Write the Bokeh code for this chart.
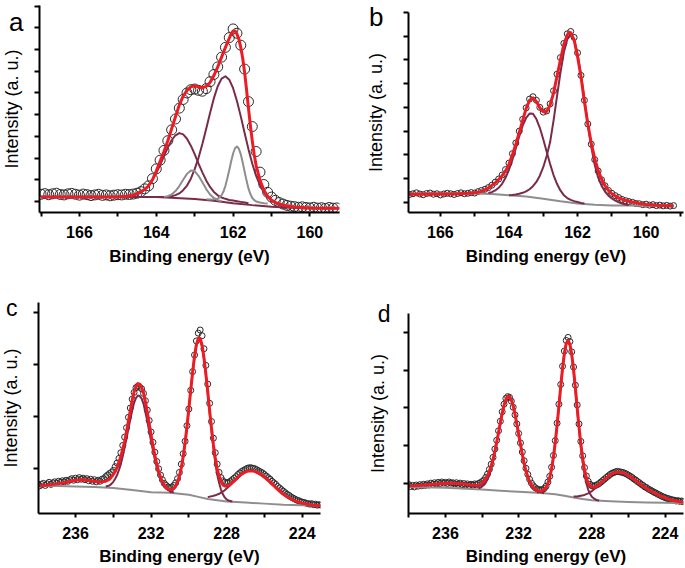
import numpy as np
from bokeh.plotting import figure
from bokeh.models import Range1d, FixedTicker
from bokeh.layouts import row, column
from bokeh.embed import file_html
from bokeh.resources import INLINE

# ---------------- data (intensity in arbitrary units = y-tick steps) ----------------
# scan grids: start energy (eV) and step (eV) of the measured points
SCAN_AB = (167.0, 0.1)
SCAN_CD = (238.0, 0.1)

# panel a: measured points, 167.0 -> 159.3 eV
a_counts = [
    0.33, 0.36, 0.31, 0.35, 0.38, 0.32, 0.30, 0.35, 0.37, 0.33,
    0.29, 0.34, 0.31, 0.27, 0.30, 0.33, 0.28, 0.30, 0.26, 0.29,
    0.31, 0.30, 0.33, 0.32, 0.34, 0.38, 0.45, 0.58, 0.72, 1.05,
    1.50, 1.90, 2.35, 2.80, 3.30, 3.80, 4.30, 4.70, 5.00, 5.15,
    5.18, 5.12, 5.08, 5.20, 5.52, 5.85, 6.20, 6.65, 7.10, 7.55,
    7.95, 7.75, 7.20, 6.10, 4.60, 3.45, 2.30, 1.35, 0.78, 0.42,
    0.20, 0.05, -0.05, -0.12, -0.18, -0.22, -0.24, -0.27, -0.25, -0.28,
    -0.30, -0.27, -0.31, -0.29, -0.32, -0.28, -0.31, -0.30,
]
a_fit_x = [167.0, 166.5, 166.0, 165.5, 165.0, 164.8, 164.6, 164.5, 164.4, 164.3, 164.2, 164.1,
           164.0, 163.9, 163.8, 163.7, 163.6, 163.5, 163.4, 163.3, 163.2, 163.1,
           163.0, 162.9, 162.8, 162.7, 162.6, 162.5, 162.4, 162.3, 162.2, 162.1,
           162.05, 162.0, 161.95, 161.9, 161.85, 161.8, 161.75, 161.7, 161.65, 161.6,
           161.55, 161.5, 161.45, 161.4, 161.3, 161.2, 161.1, 161.0, 160.9, 160.8,
           160.6, 160.4, 160.0, 159.6, 159.23]
a_fit_y = [0.20, 0.20, 0.20, 0.20, 0.21, 0.23, 0.30, 0.36, 0.45, 0.56, 0.72, 1.00,
           1.40, 1.85, 2.30, 2.80, 3.35, 3.90, 4.45, 4.85, 5.12, 5.28,
           5.33, 5.28, 5.24, 5.30, 5.48, 5.80, 6.20, 6.65, 7.10, 7.52,
           7.72, 7.85, 7.86, 7.72, 7.48, 7.10, 6.60, 5.95, 5.15, 4.30,
           3.50, 2.78, 2.15, 1.65, 0.98, 0.52, 0.24, 0.06, -0.05, -0.12,
           -0.21, -0.26, -0.30, -0.31, -0.31]
a_base_x = [167.0, 165.0, 164.5, 164.0, 163.5, 163.0, 162.5, 162.0, 161.5, 161.0, 160.5, 160.0, 159.23]
a_base_y = [0.22, 0.22, 0.21, 0.20, 0.16, 0.11, 0.03, -0.08, -0.17, -0.24, -0.29, -0.31, -0.31]
a_m1_start = 164.0   # maroon component at 162.2 eV, 0.1 eV steps
a_m1_y = [0.20, 0.21, 0.21, 0.22, 0.24, 0.29, 0.37, 0.52, 0.73, 1.05,
          1.49, 2.01, 2.65, 3.35, 4.08, 4.76, 5.31, 5.66, 5.77, 5.61,
          5.22, 4.63, 3.92, 3.15, 2.41, 1.74, 1.18, 0.75, 0.42, 0.19,
          0.04, -0.07, -0.15, -0.21, -0.25, -0.28]
a_m2_start = 165.0   # maroon component at 163.4 eV
a_m2_y = [0.22, 0.23, 0.24, 0.24, 0.27, 0.33, 0.41, 0.55, 0.73, 0.99,
          1.31, 1.68, 2.09, 2.48, 2.82, 3.05, 3.15, 3.09, 2.89, 2.57,
          2.18, 1.74, 1.34, 0.97, 0.67, 0.44, 0.28, 0.18, 0.12, 0.07,
          0.04, 0.01, -0.02, -0.05, -0.08]
a_g1_x = [162.7, 162.6, 162.5, 162.4, 162.35, 162.3, 162.25, 162.2, 162.15, 162.1, 162.05, 162.0,
          161.95, 161.9, 161.85, 161.8, 161.75, 161.7, 161.65, 161.6, 161.55, 161.5, 161.45,
          161.4, 161.3, 161.2, 161.1]
a_g1_y = [0.10, 0.09, 0.10, 0.13, 0.19, 0.29, 0.46, 0.72, 1.07, 1.45, 1.85, 2.21,
          2.45, 2.53, 2.43, 2.17, 1.79, 1.37, 0.96, 0.60, 0.34, 0.16, 0.06,
          0.00, -0.05, -0.08, -0.10]
a_g2_start = 163.8   # gray component at 163.1 eV
a_g2_y = [0.21, 0.24, 0.32, 0.48, 0.71, 1.00, 1.27, 1.43, 1.40, 1.18,
          0.88, 0.57, 0.32, 0.16, 0.06, 0.01]

# panel b: measured points, 167.0 -> 159.2 eV
b_counts = [
    0.38, 0.33, 0.36, 0.40, 0.35, 0.32, 0.37, 0.39, 0.34, 0.36,
    0.31, 0.35, 0.38, 0.36, 0.33, 0.37, 0.40, 0.36, 0.38, 0.41,
    0.39, 0.45, 0.50, 0.55, 0.62, 0.72, 0.85, 0.98, 1.15, 1.38,
    1.65, 2.05, 2.50, 3.00, 3.50, 3.98, 4.35, 4.45, 4.30, 4.00,
    3.80, 3.85, 4.15, 4.70, 5.40, 6.10, 6.70, 7.10, 7.20, 6.95,
    6.30, 5.35, 4.30, 3.30, 2.45, 1.80, 1.32, 0.95, 0.70, 0.50,
    0.38, 0.28, 0.20, 0.12, 0.07, 0.03, 0.00, -0.05, -0.06, -0.10,
    -0.08, -0.12, -0.10, -0.14, -0.12, -0.15, -0.13, -0.16, -0.14,
]
b_fit_x = [167.0, 166.0, 165.5, 165.2, 165.0, 164.8, 164.6, 164.4, 164.3, 164.2, 164.1,
           164.0, 163.9, 163.8, 163.7, 163.6, 163.5, 163.4, 163.3, 163.2, 163.1,
           163.0, 162.9, 162.8, 162.7, 162.6, 162.5, 162.4, 162.3, 162.25, 162.2, 162.1,
           162.0, 161.9, 161.8, 161.7, 161.6, 161.5, 161.4, 161.3, 161.2, 161.1,
           161.0, 160.8, 160.6, 160.4, 160.2, 160.0, 159.6, 159.2]
b_fit_y = [0.34, 0.35, 0.36, 0.38, 0.40, 0.46, 0.60, 0.82, 0.96, 1.12, 1.32,
           1.60, 2.00, 2.45, 2.95, 3.45, 3.95, 4.30, 4.40, 4.25, 3.98,
           3.82, 3.82, 4.10, 4.60, 5.30, 6.00, 6.65, 7.05, 7.17, 7.15, 6.85,
           6.15, 5.30, 4.25, 3.30, 2.50, 1.85, 1.35, 0.98, 0.70, 0.50,
           0.36, 0.18, 0.08, 0.01, -0.05, -0.09, -0.13, -0.15]
b_base_x = [167.0, 165.0, 164.5, 164.0, 163.5, 163.0, 162.5, 162.0, 161.5, 161.0, 160.5, 160.0, 159.2]
b_base_y = [0.37, 0.37, 0.35, 0.30, 0.24, 0.15, 0.04, -0.05, -0.10, -0.13, -0.14, -0.15, -0.16]
b_m1_start = 164.0   # component at 162.2 eV
b_m1_y = [0.30, 0.31, 0.33, 0.36, 0.40, 0.46, 0.55, 0.68, 0.86, 1.12,
          1.48, 1.95, 2.54, 3.44, 4.46, 5.46, 6.31, 6.87, 7.06, 6.84,
          6.24, 5.36, 4.33, 3.28, 2.34, 1.58, 1.05, 0.70, 0.45, 0.28,
          0.16, 0.07, 0.00, -0.05, -0.09, -0.12]
b_m2_start = 164.6   # component at 163.35 eV
b_m2_y = [0.39, 0.43, 0.50, 0.61, 0.78, 1.03, 1.37, 1.79, 2.28, 2.78,
          3.23, 3.56, 3.74, 3.73, 3.51, 3.14, 2.66, 2.13, 1.61, 1.15,
          0.78, 0.50, 0.30, 0.18, 0.10, 0.05, 0.01, -0.03, -0.05]

# panel c: measured points, 238.0 -> 223.0 eV
c_counts = [
    -0.30, -0.34, -0.31, -0.29, -0.33, -0.30, -0.27, -0.31, -0.28, -0.26,
    -0.29, -0.25, -0.27, -0.24, -0.26, -0.23, -0.25, -0.22, -0.20, -0.23,
    -0.19, -0.22, -0.18, -0.21, -0.19, -0.22, -0.20, -0.24, -0.21, -0.25,
    -0.22, -0.26, -0.23, -0.25, -0.21, -0.20, -0.16, -0.13, -0.10, -0.08,
    -0.04, 0.03, 0.10, 0.19, 0.30, 0.44, 0.60, 0.78, 0.98, 1.16,
    1.33, 1.46, 1.55, 1.58, 1.56, 1.53, 1.44, 1.30, 1.12, 0.92,
    0.70, 0.50, 0.31, 0.13, -0.01, -0.13, -0.22, -0.29, -0.33, -0.36,
    -0.37, -0.36, -0.33, -0.28, -0.20, -0.08, 0.08, 0.28, 0.52, 0.82,
    1.14, 1.50, 1.86, 2.18, 2.45, 2.60, 2.66, 2.55, 2.30, 1.98,
    1.62, 1.25, 0.90, 0.58, 0.30, 0.08, -0.08, -0.18, -0.24, -0.27,
    -0.28, -0.27, -0.25, -0.22, -0.19, -0.16, -0.12, -0.09, -0.06, -0.04,
    -0.02, 0.00, 0.01, 0.01, 0.00, -0.01, -0.03, -0.05, -0.07, -0.09,
    -0.12, -0.15, -0.18, -0.21, -0.25, -0.28, -0.31, -0.35, -0.38, -0.41,
    -0.44, -0.47, -0.50, -0.52, -0.55, -0.57, -0.59, -0.61, -0.62, -0.64,
    -0.65, -0.66, -0.67, -0.68, -0.69, -0.68, -0.70, -0.69, -0.71, -0.70,
    -0.71,
]
c_fit_x = [238.0, 237.5, 237.0, 236.5, 236.0, 235.6, 235.2, 234.8, 234.6, 234.4, 234.2,
           234.0, 233.9, 233.8, 233.7, 233.6, 233.5, 233.4, 233.3, 233.2, 233.1,
           233.0, 232.9, 232.8, 232.7, 232.6, 232.5, 232.4, 232.3, 232.2, 232.1,
           232.0, 231.9, 231.8, 231.7, 231.6, 231.5, 231.4, 231.3, 231.2, 231.1,
           231.0, 230.9, 230.8, 230.7, 230.6, 230.5, 230.4, 230.3, 230.2, 230.1,
           230.0, 229.9, 229.8, 229.7, 229.6, 229.5, 229.4, 229.3, 229.2, 229.1,
           229.0, 228.9, 228.8, 228.7, 228.6, 228.5, 228.4, 228.3, 228.2, 228.1,
           228.0, 227.9, 227.8, 227.7, 227.6, 227.5, 227.4, 227.3, 227.2, 227.1,
           227.0, 226.9, 226.8, 226.7, 226.6, 226.5, 226.4, 226.3, 226.2, 226.1,
           226.0, 225.8, 225.6, 225.4, 225.2, 225.0, 224.8, 224.6, 224.4, 224.2,
           224.0, 223.6, 223.03]
c_fit_y = [-0.33, -0.32, -0.30, -0.27, -0.23, -0.22, -0.24, -0.26, -0.26, -0.25, -0.21,
           -0.12, -0.06, 0.02, 0.12, 0.23, 0.37, 0.52, 0.70, 0.91, 1.11,
           1.31, 1.47, 1.57, 1.63, 1.62, 1.56, 1.45, 1.28, 1.08, 0.86,
           0.64, 0.44, 0.25, 0.08, -0.06, -0.17, -0.26, -0.32, -0.37, -0.40,
           -0.41, -0.41, -0.385, -0.345, -0.26, -0.15, 0.01, 0.22, 0.49, 0.80,
           1.15, 1.51, 1.85, 2.15, 2.38, 2.50, 2.50, 2.37, 2.13, 1.82,
           1.48, 1.11, 0.77, 0.46, 0.20, -0.01, -0.15, -0.25, -0.32, -0.34,
           -0.345, -0.33, -0.31, -0.275, -0.245, -0.21, -0.17, -0.14, -0.11, -0.09,
           -0.07, -0.05, -0.05, -0.05, -0.05, -0.06, -0.08, -0.09, -0.12, -0.14,
           -0.17, -0.23, -0.30, -0.37, -0.44, -0.50, -0.55, -0.59, -0.625, -0.65,
           -0.67, -0.70, -0.72]
c_base_x = [238.0, 235.0, 234.0, 233.0, 232.0, 231.0, 230.0, 229.5, 229.0, 228.5, 228.0,
            227.0, 226.0, 225.0, 224.0, 223.03]
c_base_y = [-0.33, -0.36, -0.38, -0.42, -0.46, -0.47, -0.51, -0.55, -0.59, -0.615, -0.64,
            -0.66, -0.68, -0.70, -0.71, -0.72]
c_p1_start = 234.4   # component at 232.65 eV
c_p1_y = [-0.35, -0.34, -0.33, -0.30, -0.26, -0.20, -0.13, -0.03, 0.08, 0.23,
          0.40, 0.57, 0.76, 0.94, 1.11, 1.26, 1.35, 1.40, 1.39, 1.34,
          1.24, 1.08, 0.91, 0.71, 0.52, 0.34, 0.17, 0.02, -0.10, -0.20,
          -0.29, -0.35, -0.39, -0.42, -0.44, -0.45, -0.47]
c_p2_start = 231.0   # component at 229.45 eV
c_p2_y = [-0.47, -0.43, -0.40, -0.35, -0.27, -0.15, 0.01, 0.22, 0.49, 0.80,
          1.15, 1.51, 1.85, 2.15, 2.37, 2.47, 2.46, 2.34, 2.11, 1.80,
          1.44, 1.07, 0.71, 0.39, 0.11, -0.12, -0.28, -0.41, -0.50, -0.56,
          -0.60, -0.62, -0.63, -0.64]
c_p3_x = [229.0, 228.8, 228.6, 228.4, 228.2, 228.0, 227.8, 227.6, 227.4, 227.2, 227.0,
          226.8, 226.6, 226.4, 226.2, 226.0, 225.8, 225.6, 225.4, 225.2, 225.0,
          224.8, 224.6, 224.4, 224.2, 224.0, 223.6, 223.03]
c_p3_y = [-0.555, -0.54, -0.52, -0.49, -0.45, -0.39, -0.32, -0.24, -0.17, -0.11, -0.07,
          -0.05, -0.05, -0.08, -0.12, -0.17, -0.23, -0.30, -0.37, -0.44, -0.50,
          -0.55, -0.59, -0.625, -0.65, -0.67, -0.70, -0.72]

# panel d: measured points, 238.0 -> 223.0 eV
d_counts = [
    -0.02, -0.07, -0.04, -0.08, -0.03, -0.06, -0.02, -0.05, -0.01, -0.04,
    0.00, -0.03, 0.02, -0.01, 0.03, 0.00, 0.04, 0.01, 0.05, 0.02,
    0.04, 0.01, 0.05, 0.02, 0.03, 0.00, 0.03, -0.01, 0.02, -0.02,
    0.01, -0.03, 0.00, -0.04, -0.01, -0.03, 0.00, -0.02, 0.01, 0.03,
    0.06, 0.10, 0.17, 0.26, 0.38, 0.52, 0.70, 0.92, 1.15, 1.40,
    1.65, 1.90, 2.10, 2.25, 2.30, 2.28, 2.18, 2.02, 1.82, 1.58,
    1.33, 1.08, 0.84, 0.61, 0.41, 0.25, 0.12, 0.02, -0.05, -0.10,
    -0.13, -0.15, -0.16, -0.15, -0.12, -0.06, 0.05, 0.20, 0.44, 0.75,
    1.14, 1.60, 2.10, 2.62, 3.10, 3.50, 3.78, 3.86, 3.75, 3.48,
    3.08, 2.60, 2.08, 1.58, 1.12, 0.74, 0.43, 0.21, 0.07, -0.01,
    -0.05, -0.06, -0.04, -0.02, 0.01, 0.05, 0.09, 0.13, 0.17, 0.21,
    0.25, 0.28, 0.30, 0.32, 0.33, 0.32, 0.31, 0.30, 0.28, 0.26,
    0.23, 0.20, 0.17, 0.13, 0.10, 0.06, 0.03, -0.01, -0.04, -0.08,
    -0.10, -0.14, -0.16, -0.19, -0.22, -0.24, -0.27, -0.29, -0.32, -0.34,
    -0.36, -0.38, -0.39, -0.41, -0.42, -0.43, -0.45, -0.44, -0.46, -0.45,
    -0.47,
]
d_fit_x = [238.0, 237.5, 237.0, 236.5, 236.0, 235.5, 235.0, 234.6, 234.3, 234.2, 234.1,
           234.0, 233.9, 233.8, 233.7, 233.6, 233.5, 233.4, 233.3, 233.2, 233.1,
           233.0, 232.9, 232.8, 232.7, 232.6, 232.5, 232.4, 232.3, 232.2, 232.1,
           232.0, 231.9, 231.8, 231.7, 231.6, 231.5, 231.4, 231.3, 231.2, 231.1,
           231.0, 230.9, 230.8, 230.7, 230.6, 230.5, 230.4, 230.3, 230.2, 230.1,
           230.0, 229.9, 229.8, 229.7, 229.6, 229.5, 229.4, 229.3, 229.2, 229.1,
           229.0, 228.9, 228.8, 228.7, 228.6, 228.5, 228.4, 228.3, 228.2, 228.1,
           228.0, 227.9, 227.8, 227.7, 227.6, 227.5, 227.4, 227.3, 227.2, 227.1,
           227.0, 226.9, 226.8, 226.7, 226.6, 226.5, 226.4, 226.3, 226.2, 226.1,
           226.0, 225.8, 225.6, 225.4, 225.2, 225.0, 224.8, 224.6, 224.4, 224.2,
           224.0, 223.8, 223.6, 223.4, 223.2, 223.0]
d_fit_y = [-0.05, -0.04, -0.02, 0.00, 0.02, 0.02, 0.00, -0.03, -0.04, -0.03, -0.01,
           0.02, 0.07, 0.14, 0.22, 0.34, 0.48, 0.65, 0.86, 1.10, 1.35,
           1.61, 1.86, 2.07, 2.22, 2.30, 2.30, 2.21, 2.06, 1.84, 1.58,
           1.31, 1.04, 0.78, 0.54, 0.34, 0.19, 0.06, -0.03, -0.10, -0.14,
           -0.17, -0.18, -0.19, -0.17, -0.14, -0.09, 0.02, 0.17, 0.40, 0.70,
           1.09, 1.54, 2.04, 2.57, 3.05, 3.44, 3.70, 3.78, 3.68, 3.42,
           3.02, 2.53, 2.00, 1.50, 1.05, 0.67, 0.37, 0.16, 0.02, -0.05,
           -0.08, -0.08, -0.07, -0.05, -0.02, 0.03, 0.075, 0.12, 0.16, 0.20,
           0.24, 0.27, 0.29, 0.30, 0.31, 0.31, 0.30, 0.29, 0.27, 0.25,
           0.22, 0.16, 0.09, 0.01, -0.06, -0.12, -0.18, -0.23, -0.28, -0.33,
           -0.37, -0.40, -0.43, -0.45, -0.47, -0.48]
d_base_x = [238.0, 236.0, 234.0, 233.0, 232.0, 231.0, 230.0, 229.5, 229.0, 228.5, 228.0,
            227.0, 226.0, 225.0, 224.0, 223.0]
d_base_y = [-0.08, -0.10, -0.15, -0.18, -0.21, -0.23, -0.27, -0.31, -0.36, -0.40, -0.43,
            -0.46, -0.48, -0.49, -0.50, -0.51]
d_p1_start = 234.2   # component at 232.55 eV
d_p1_y = [-0.115, -0.10, -0.07, -0.03, 0.03, 0.12, 0.25, 0.40, 0.59, 0.82,
          1.08, 1.34, 1.61, 1.86, 2.07, 2.22, 2.30, 2.30, 2.21, 2.06,
          1.84, 1.58, 1.31, 1.04, 0.78, 0.54, 0.34, 0.19, 0.06, -0.03,
          -0.10, -0.15, -0.18, -0.20, -0.22, -0.235, -0.245]
d_p2_start = 231.0   # component at 229.3 eV
d_p2_y = [-0.23, -0.22, -0.21, -0.19, -0.156, -0.09, 0.016, 0.17, 0.40, 0.70,
          1.09, 1.54, 2.04, 2.57, 3.05, 3.44, 3.70, 3.78, 3.68, 3.40,
          2.99, 2.49, 1.95, 1.44, 0.97, 0.57, 0.25, 0.02, -0.15, -0.26,
          -0.34, -0.38, -0.41, -0.43, -0.44]
d_p3_x = [229.0, 228.8, 228.6, 228.4, 228.2, 228.0, 227.8, 227.6, 227.4, 227.2, 227.0,
          226.8, 226.6, 226.4, 226.2, 226.0, 225.8, 225.6, 225.4, 225.2, 225.0,
          224.8, 224.6, 224.4, 224.2, 224.0, 223.8, 223.6, 223.0]
d_p3_y = [-0.33, -0.33, -0.31, -0.29, -0.25, -0.19, -0.11, -0.02, 0.075, 0.16, 0.24,
          0.29, 0.31, 0.30, 0.27, 0.22, 0.16, 0.09, 0.01, -0.06, -0.12,
          -0.18, -0.23, -0.28, -0.33, -0.37, -0.40, -0.43, -0.48]

# axis ticks
ab_ticks_major = [160, 162, 164, 166]
ab_ticks_minor = [159, 161, 163, 165, 167]
cd_ticks_major = [224, 228, 232, 236]
cd_ticks_minor = [226, 230, 234, 238]
panel_letters = ["a", "b", "c", "d"]

# ---------------- styling ----------------
FONT = "Liberation Sans"
RED = "#ec1c24"
MAROON = "#7a2b48"
GRAY = "#8e8e8e"
DOT = "#2a2a2a"
LEFT_SHIFT = 16   # extra canvas on the left of panels a and c, hidden by a negative margin


def steps(start, step, n):
    return [round(start - i * step, 3) for i in range(n)]


def make_panel(w, h, borders, xr, yr, majors, minors, yticks, xstand,
               letter, letter_pos, letter_size, letter_standoff, ystand):
    bl, br, bt, bb = borders
    p = figure(width=w, height=h, x_range=Range1d(*xr), y_range=Range1d(*yr),
               output_backend="svg", toolbar_location=None,
               min_border_left=bl, min_border_right=br,
               min_border_top=bt, min_border_bottom=bb,
               x_axis_label="Binding energy (eV)", y_axis_label="Intensity (a. u.)")
    p.title.visible = False
    p.outline_line_color = None
    p.xgrid.visible = False
    p.ygrid.visible = False
    p.background_fill_color = "white"
    p.border_fill_color = "white"

    xa = p.xaxis[0]
    xa.ticker = FixedTicker(ticks=majors, minor_ticks=minors)
    xa.major_label_text_font = FONT
    xa.major_label_text_font_style = "bold"
    xa.major_label_text_font_size = "16px"
    xa.major_label_text_color = "black"
    xa.major_label_standoff = xstand[0]
    xa.axis_label_text_font = FONT
    xa.axis_label_text_font_style = "bold"
    xa.axis_label_text_font_size = "17px"
    xa.axis_label_text_color = "black"
    xa.axis_label_standoff = xstand[1]
    xa.axis_line_width = 2
    xa.axis_line_color = "black"
    xa.major_tick_line_width = 2
    xa.minor_tick_line_width = 2
    xa.major_tick_out = 4
    xa.major_tick_in = 0
    xa.minor_tick_out = 4
    xa.minor_tick_in = 0
    xa.minor_tick_line_color = "black"

    # y axis: the visible tick marks are drawn as minor ticks; the single
    # (invisible) major tick carries the panel letter as its label
    ya = p.yaxis[0]
    ya.ticker = FixedTicker(ticks=[letter_pos], minor_ticks=yticks)
    ya.major_label_overrides = {letter_pos: letter}
    ya.major_label_text_font = FONT
    ya.major_label_text_font_size = f"{letter_size}px"
    ya.major_label_text_color = "black"
    ya.major_label_standoff = letter_standoff
    ya.major_tick_line_color = None
    ya.major_tick_out = 5
    ya.major_tick_in = 0
    ya.minor_tick_line_color = "black"
    ya.minor_tick_line_width = 2
    ya.minor_tick_out = 5
    ya.minor_tick_in = 0
    ya.axis_label_text_font = FONT
    ya.axis_label_text_font_style = "normal"
    ya.axis_label_text_font_size = "18px"
    ya.axis_label_text_color = "black"
    ya.axis_label_standoff = ystand
    ya.axis_line_width = 2
    ya.axis_line_color = "black"
    return p


def dots(p, counts, scan, size):
    x = steps(scan[0], scan[1], len(counts))
    p.scatter(x, counts, marker="circle", size=size, fill_color=None,
              line_color=DOT, line_width=1)


def curve(p, x, y, color, width):
    assert len(x) == len(y)
    p.line(x, y, line_color=color, line_width=width, line_join="round")


# ---- panel a ----
pa = make_panel(340 + LEFT_SHIFT, 280, (39 + LEFT_SHIFT, 1, 5, 68), (167.04, 159.23), (-0.51, 9.03),
                ab_ticks_major, ab_ticks_minor, list(range(0, 10)), (9, 6),
                panel_letters[0], 8.89, 26, 11, -16)
dots(pa, a_counts, SCAN_AB, 10)
curve(pa, a_base_x, a_base_y, MAROON, 2)
curve(pa, steps(a_m2_start, 0.1, len(a_m2_y)), a_m2_y, MAROON, 2)
curve(pa, steps(a_m1_start, 0.1, len(a_m1_y)), a_m1_y, MAROON, 2)
curve(pa, steps(a_g2_start, 0.1, len(a_g2_y)), a_g2_y, GRAY, 2)
curve(pa, a_g1_x, a_g1_y, GRAY, 2)
curve(pa, a_fit_x, a_fit_y, RED, 3)

# ---- panel b ----
pb = make_panel(344, 280, (68, 1, 12, 68), (166.93, 158.91), (-0.43, 8.0),
                ab_ticks_major, ab_ticks_minor, list(range(0, 9)), (9, 6),
                panel_letters[1], 7.92, 26, 20, -20)
dots(pb, b_counts, SCAN_AB, 6)
curve(pb, b_base_x, b_base_y, GRAY, 2)
curve(pb, steps(b_m2_start, 0.1, len(b_m2_y)), b_m2_y, MAROON, 2)
curve(pb, steps(b_m1_start, 0.1, len(b_m1_y)), b_m1_y, MAROON, 2)
curve(pb, b_fit_x, b_fit_y, RED, 3)

# ---- panel c ----
pc = make_panel(340 + LEFT_SHIFT, 288, (38 + LEFT_SHIFT, 20, 22, 55), (237.96, 223.03), (-0.87, 3.19),
                cd_ticks_major, cd_ticks_minor, [0, 1, 2, 3], (9, 5),
                panel_letters[2], 3.09, 23, 16, -18)
dots(pc, c_counts, SCAN_CD, 6)
curve(pc, c_base_x, c_base_y, GRAY, 2)
curve(pc, steps(c_p1_start, 0.1, len(c_p1_y)), c_p1_y, MAROON, 2)
curve(pc, steps(c_p2_start, 0.1, len(c_p2_y)), c_p2_y, MAROON, 2)
curve(pc, c_p3_x, c_p3_y, MAROON, 2)
curve(pc, c_fit_x, c_fit_y, RED, 3)

# ---- panel d ----
pd_ = make_panel(344, 288, (68, 1, 33, 55), (238.02, 222.99), (-0.78, 4.49),
                 cd_ticks_major, cd_ticks_minor, [0, 1, 2, 3, 4], (9, 5),
                 panel_letters[3], 4.47, 23, 13, -13)
dots(pd_, d_counts, SCAN_CD, 6)
curve(pd_, d_base_x, d_base_y, GRAY, 2)
curve(pd_, steps(d_p1_start, 0.1, len(d_p1_y)), d_p1_y, MAROON, 2)
curve(pd_, steps(d_p2_start, 0.1, len(d_p2_y)), d_p2_y, MAROON, 2)
curve(pd_, d_p3_x, d_p3_y, MAROON, 2)
curve(pd_, d_fit_x, d_fit_y, RED, 3)

layout = column(
    row(column(pa, margin=(0, 0, 0, -LEFT_SHIFT)), column(pb, margin=0), spacing=0, margin=0),
    row(column(pc, margin=(0, 0, 0, -LEFT_SHIFT)), column(pd_, margin=0), spacing=0, margin=0),
    spacing=0, margin=0)

html = file_html(layout, INLINE, title="XPS spectra")
html = html.replace("<head>", "<head><style>html,body{margin:0;padding:0;overflow:hidden;}</style>", 1)
with open("out.html", "w") as f:
    f.write(html)
